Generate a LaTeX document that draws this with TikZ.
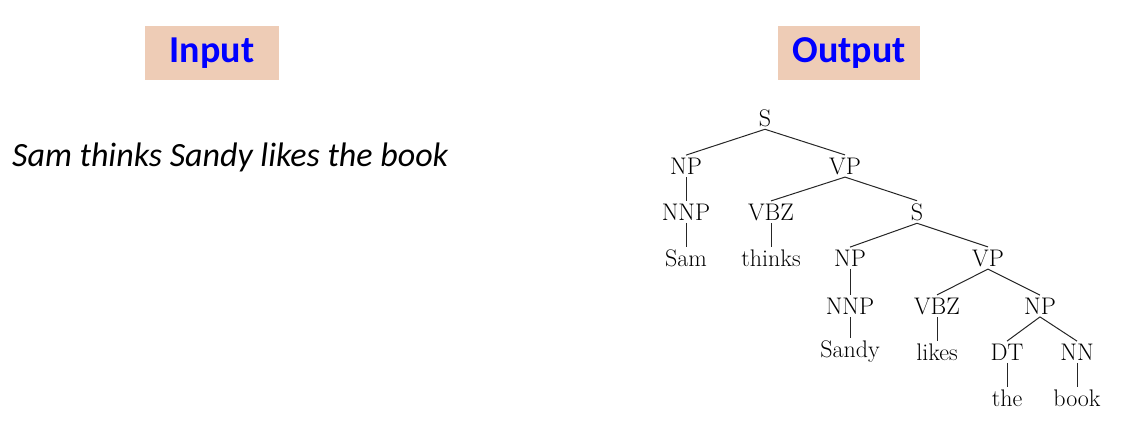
\documentclass[tikz,border=0pt]{standalone}
\usepackage{fontspec}
\setsansfont{Carlito}
\usetikzlibrary{positioning}
\definecolor{peach}{HTML}{EECCB6}
\definecolor{titleblue}{HTML}{0000FF}
\tikzset{title/.style={fill=peach,text=titleblue,font=\sffamily\bfseries\fontsize{38}{44}\selectfont,minimum height=54pt,inner sep=0pt},
  cat/.style={font=\fontsize{24}{28}\selectfont,inner sep=2.5pt},
  edge/.style={line width=1pt,black!85}}
\begin{document}
\begin{tikzpicture}[x=1pt,y=-1pt]
\useasboundingbox (0,0) rectangle (1126,423);
\node[title,minimum width=134pt] (input) at (212,53) {Input};
\node[title,minimum width=142pt] (output) at (849,53) {Output};
\node[font=\sffamily\itshape\fontsize{34}{40}\selectfont,anchor=base west,inner sep=0pt] (sentence) at (12,166) {Sam thinks Sandy likes the book};
% parse tree
\node[cat] (s) at (765,118) {S};
\node[cat] (np) at (686,166) {NP};
\node[cat] (vp) at (845,166) {VP};
\node[cat] (nnp) at (686,212) {NNP};
\node[cat] (vbz) at (771,212) {VBZ};
\node[cat] (s2) at (917,212) {S};
\node[cat] (sam) at (686,258) {Sam};
\node[cat] (thinks) at (771,258) {thinks};
\node[cat] (np2) at (850,258) {NP};
\node[cat] (vp2) at (988,258) {VP};
\node[cat] (nnp2) at (850,306) {NNP};
\node[cat] (vbz2) at (937,306) {VBZ};
\node[cat] (np3) at (1040,306) {NP};
\node[cat] (sandy) at (850,352) {Sandy};
\node[cat] (likes) at (937,352) {likes};
\node[cat] (dt) at (1007,352) {DT};
\node[cat] (nn) at (1077,352) {NN};
\node[cat] (the) at (1007,398) {the};
\node[cat] (book) at (1077,398) {book};
\foreach \a/\b in {s/np,s/vp,np/nnp,nnp/sam,vp/vbz,vp/s2,vbz/thinks,s2/np2,s2/vp2,np2/nnp2,nnp2/sandy,vp2/vbz2,vp2/np3,vbz2/likes,np3/dt,np3/nn,dt/the,nn/book}
  \draw[edge] (\a.south) -- (\b.north);
\end{tikzpicture}
\end{document}
